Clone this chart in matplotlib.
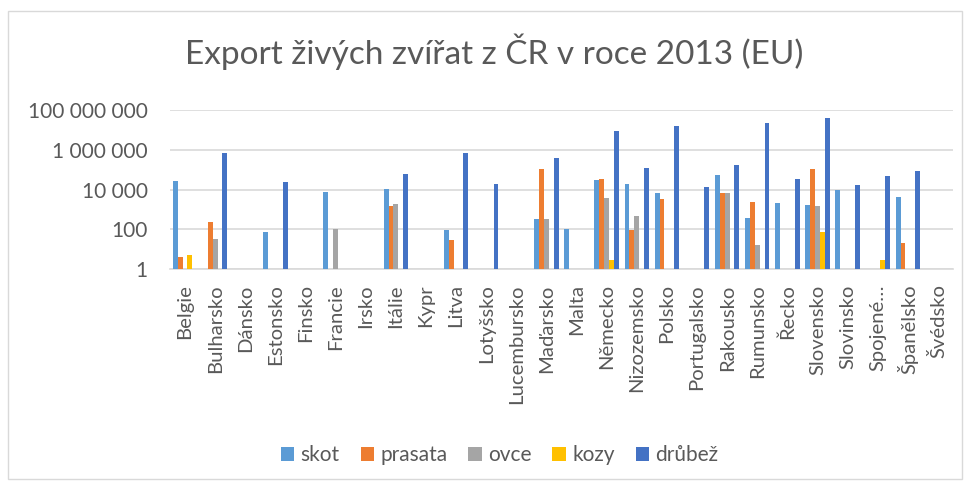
import numpy as np
import matplotlib
matplotlib.use("Agg")
import matplotlib.pyplot as plt
from matplotlib.patches import Rectangle

nan = np.nan
countries = ["Belgie", "Bulharsko", "Dánsko", "Estonsko", "Finsko", "Francie", "Irsko",
             "Itálie", "Kypr", "Litva", "Lotyšsko", "Lucembursko", "Maďarsko", "Malta",
             "Německo", "Nizozemsko", "Polsko", "Portugalsko", "Rakousko", "Rumunsko",
             "Řecko", "Slovensko", "Slovinsko", "Spojené…", "Španělsko", "Švédsko"]

skot    = [28000, nan, nan, 69, nan, 7200, nan, 11000, nan, 93, nan, nan, 310, 105,
           31000, 19500, 6900, nan, 54000, 380, 2100, 1650, 9400, nan, 4200, nan]
prasata = [4, 230, nan, nan, nan, nan, nan, 1500, nan, 28, nan, nan, 112000, nan,
           35000, 93, 3500, nan, 6900, 2300, nan, 104000, nan, nan, 20, nan]
ovce    = [nan, 33, nan, nan, nan, 100, nan, 1800, nan, nan, nan, nan, 320, nan,
           3900, 440, nan, nan, 6600, 16, nan, 1470, nan, nan, nan, nan]
kozy    = [5, nan, nan, nan, nan, nan, nan, nan, nan, nan, nan, nan, nan, nan,
           3, nan, nan, nan, nan, nan, nan, 74, nan, 3, nan, nan]
drubez  = [nan, 720000, nan, 24500, nan, nan, nan, 63000, nan, 720000, 19500, nan, 400000, nan,
           9300000, 117000, 16600000, 13800, 165000, 23000000, 35000, 41000000, 16000, 48000, 89000, nan]

series = [("skot", skot, "#5B9BD5"), ("prasata", prasata, "#ED7D31"),
          ("ovce", ovce, "#A5A5A5"), ("kozy", kozy, "#FFC000"),
          ("drůbež", drubez, "#4472C4")]

yticks = [1, 100, 10000, 1000000, 100000000]
ytick_labels = ["1", "100", "10 000", "1 000 000", "100 000 000"]

plt.rcParams['font.family'] = ['Lato', 'DejaVu Sans']
txt = "#595959"

fig = plt.figure(figsize=(9.7, 4.83), dpi=100)
fig.patches.append(Rectangle((8/970, 4/483), 954/970, 468/483, transform=fig.transFigure,
                             fill=False, edgecolor="#D9D9D9", linewidth=1))
ax = fig.add_axes([170/970, 1-269/483, 783/970, 159/483])
ax.set_yscale("log")
ax.set_ylim(1, 1e8)
n = len(countries)
x = np.arange(n)
group = 0.81
bw = group / 5
for i, (name, vals, col) in enumerate(series):
    v = np.array(vals, dtype=float)
    pos = x - group/2 + bw*(i+0.5)
    m = ~np.isnan(v)
    ax.bar(pos[m], v[m]-1, bottom=1, width=bw, color=col, label=name, zorder=3)
ax.set_xlim(-0.5, n-0.5)
ax.set_yticks(yticks)
ax.set_yticklabels(ytick_labels, fontsize=15, color=txt)
ax.yaxis.set_minor_locator(matplotlib.ticker.NullLocator())
ax.set_xticks(x)
ax.set_xticklabels(countries, rotation=90, fontsize=14.6, color=txt)
ax.tick_params(axis="both", length=0)
ax.tick_params(axis="x", pad=11)
ax.tick_params(axis="y", pad=16)
ax.grid(axis="y", color="#D9D9D9", linewidth=1.2, zorder=0)
for s in ["top", "right", "left"]:
    ax.spines[s].set_visible(False)
ax.spines["bottom"].set_color("#D9D9D9")
ax.spines["bottom"].set_linewidth(1.2)

fig.text(0.509, 1-52/483, "Export živých zvířat z ČR v roce 2013 (EU)", ha="center", va="center",
         fontsize=24, color=txt)

h, l = ax.get_legend_handles_labels()
fig.legend(h, l, loc="center", bbox_to_anchor=(0.515, 1-455/483), ncol=5, frameon=False,
           fontsize=15, labelcolor=txt, handlelength=0.65, handleheight=0.65,
           handletextpad=0.3, columnspacing=1.0)

fig.savefig("out.png", dpi=100)
